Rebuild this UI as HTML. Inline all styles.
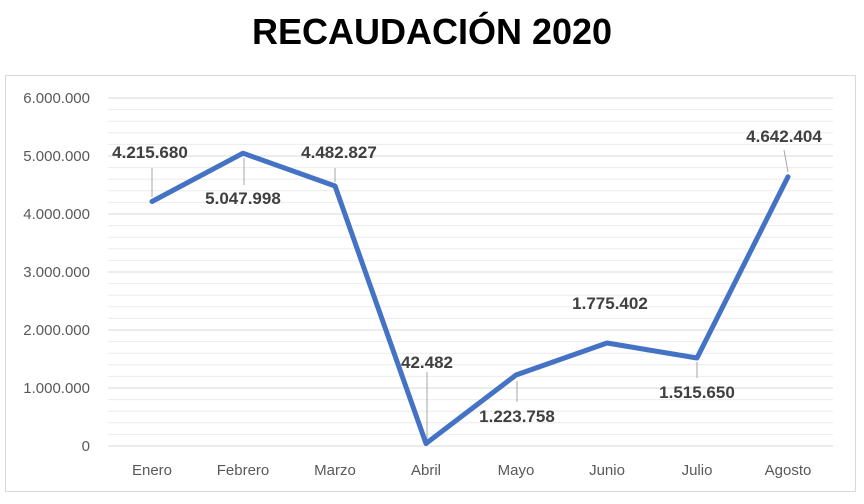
<!DOCTYPE html><html><head><meta charset="utf-8"><style>body{margin:0;background:#fff}</style></head><body>
<svg width="864" height="499" xmlns="http://www.w3.org/2000/svg" font-family="Liberation Sans, sans-serif">
<text x="432" y="44" text-anchor="middle" font-size="36" font-weight="bold" fill="#000">RECAUDACIÓN 2020</text>
<rect x="5.5" y="75.5" width="850" height="416" fill="none" stroke="#d9d9d9"/>
<g stroke="#ececec" stroke-width="1">
<line x1="108" x2="833" y1="109.6" y2="109.6"/><line x1="108" x2="833" y1="121.2" y2="121.2"/><line x1="108" x2="833" y1="132.8" y2="132.8"/><line x1="108" x2="833" y1="144.4" y2="144.4"/>
<line x1="108" x2="833" y1="167.6" y2="167.6"/><line x1="108" x2="833" y1="179.2" y2="179.2"/><line x1="108" x2="833" y1="190.8" y2="190.8"/><line x1="108" x2="833" y1="202.4" y2="202.4"/>
<line x1="108" x2="833" y1="225.6" y2="225.6"/><line x1="108" x2="833" y1="237.2" y2="237.2"/><line x1="108" x2="833" y1="248.8" y2="248.8"/><line x1="108" x2="833" y1="260.4" y2="260.4"/>
<line x1="108" x2="833" y1="283.6" y2="283.6"/><line x1="108" x2="833" y1="295.2" y2="295.2"/><line x1="108" x2="833" y1="306.8" y2="306.8"/><line x1="108" x2="833" y1="318.4" y2="318.4"/>
<line x1="108" x2="833" y1="341.6" y2="341.6"/><line x1="108" x2="833" y1="353.2" y2="353.2"/><line x1="108" x2="833" y1="364.8" y2="364.8"/><line x1="108" x2="833" y1="376.4" y2="376.4"/>
<line x1="108" x2="833" y1="399.6" y2="399.6"/><line x1="108" x2="833" y1="411.2" y2="411.2"/><line x1="108" x2="833" y1="422.8" y2="422.8"/><line x1="108" x2="833" y1="434.4" y2="434.4"/>
</g>
<g stroke="#d9d9d9" stroke-width="1">
<line x1="108" x2="833" y1="98" y2="98"/><line x1="108" x2="833" y1="156" y2="156"/><line x1="108" x2="833" y1="214" y2="214"/><line x1="108" x2="833" y1="272" y2="272"/><line x1="108" x2="833" y1="330" y2="330"/><line x1="108" x2="833" y1="388" y2="388"/><line x1="108" x2="833" y1="446" y2="446"/>
</g>
<g font-size="15" fill="#595959" text-anchor="end">
<text x="90" y="103">6.000.000</text><text x="90" y="161">5.000.000</text><text x="90" y="219">4.000.000</text><text x="90" y="277">3.000.000</text><text x="90" y="335">2.000.000</text><text x="90" y="393">1.000.000</text><text x="90" y="451">0</text>
</g>
<g font-size="15" fill="#595959" text-anchor="middle">
<text x="152" y="475">Enero</text><text x="243" y="475">Febrero</text><text x="335" y="475">Marzo</text><text x="426" y="475">Abril</text><text x="516" y="475">Mayo</text><text x="607" y="475">Junio</text><text x="697" y="475">Julio</text><text x="788" y="475">Agosto</text>
</g>
<g stroke="#a6a6a6" stroke-width="1">
<line x1="152" y1="168" x2="152" y2="197"/><line x1="244" y1="158" x2="244" y2="185"/><line x1="335" y1="168" x2="335" y2="182"/><line x1="427" y1="372" x2="427" y2="441"/><line x1="517" y1="381" x2="517" y2="402"/><line x1="697" y1="362" x2="697" y2="378"/><line x1="784" y1="150" x2="788" y2="172"/>
</g>
<polyline points="152,201.5 243,153.2 335,186 426,443.5 516,375 607,343 697,358 788,176.8" fill="none" stroke="#4472c4" stroke-width="5" stroke-linejoin="round" stroke-linecap="round"/>
<g font-size="17" font-weight="bold" fill="#404040" text-anchor="middle">
<text x="150" y="158">4.215.680</text><text x="243" y="204">5.047.998</text><text x="339" y="158">4.482.827</text><text x="427" y="368">42.482</text><text x="517" y="422">1.223.758</text><text x="610" y="309">1.775.402</text><text x="697" y="398">1.515.650</text><text x="784" y="142">4.642.404</text>
</g>
</svg>
</body></html>
